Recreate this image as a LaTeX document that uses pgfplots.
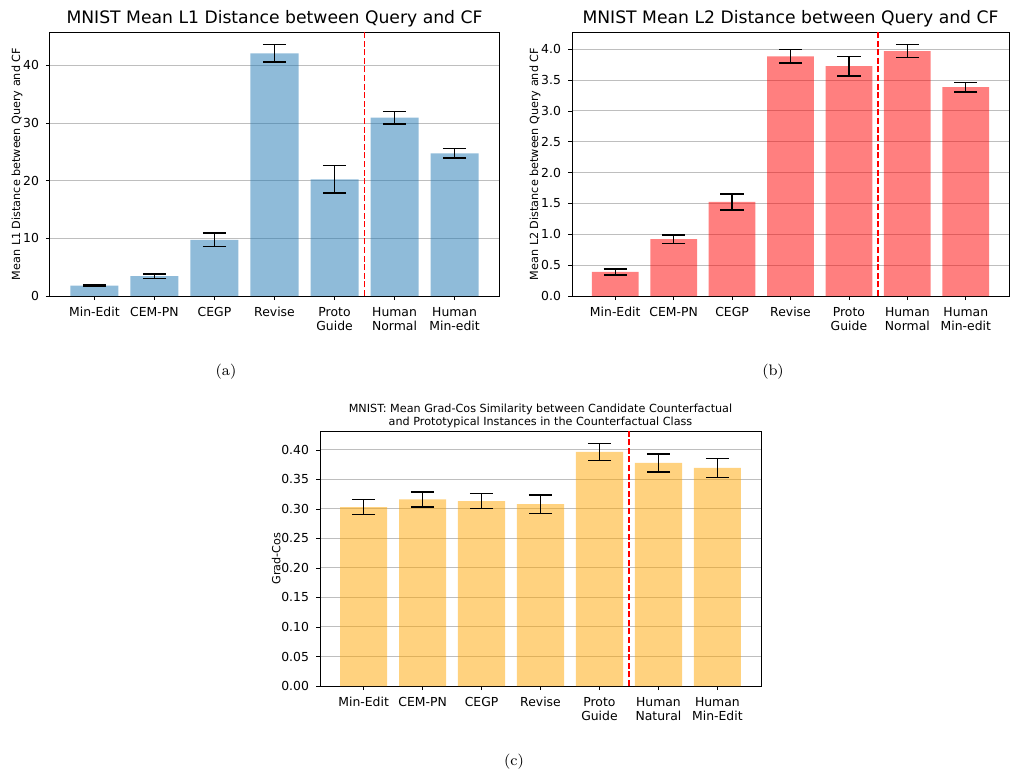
\documentclass[border=0pt]{standalone}
\usepackage{fontspec}
\usepackage{pgfplots}
\pgfplotsset{compat=1.18}
\newfontfamily\dejavu{DejaVu Sans}
\definecolor{tabblue}{HTML}{1F77B4}
\definecolor{mplred}{HTML}{FF0000}
\definecolor{mplorange}{HTML}{FFA500}
\definecolor{gridgray}{HTML}{BEBEBE}
\pgfplotsset{
  common/.style={
    scale only axis,
    xmin=-0.74, xmax=6.74,
    ymin=0,
    xtick={0,1,2,3,4,5,6},
    tick align=outside,
    xtick pos=bottom, ytick pos=left,
    major tick length=2pt,
    tick style={black, line width=0.4pt},
    axis line style={black, line width=0.5pt},
    ymajorgrids, grid style={gridgray, line width=0.5pt},
    /pgf/number format/assume math mode=true,
    tick label style={font=\dejavu\fontsize{6.2}{7.2}\selectfont},
    xticklabel style={align=center, anchor=north},
    ylabel style={font=\dejavu\fontsize{5.6}{6.5}\selectfont, yshift=-6.5pt},
    title style={font=\dejavu\fontsize{8.6}{10}\selectfont, yshift=-7pt},
    ybar, bar width=0.8,
    error bars/y dir=both, error bars/y explicit,
    error bars/error mark options={black, line width=0.7pt, mark size=5.8pt, rotate=90},
    error bars/error bar style={black, line width=0.7pt},
  },
  divider/.style={mplred, line width=0.9pt, dash pattern=on 3pt off 1.3pt, forget plot, no marks},
}
\begin{document}
\begin{tikzpicture}
\useasboundingbox (0pt,0pt) rectangle (505pt,-386pt);
% (a)
\begin{axis}[common, at={(25pt,-148pt)}, anchor=south west, width=224.5pt, height=132pt,
  ymax=45.8, ytick={0,10,20,30,40},
  xticklabels={Min-Edit,CEM-PN,CEGP,Revise,{Proto\\Guide},{Human\\Normal},{Human\\Min-edit}},
  ylabel={Mean L1 Distance between Query and CF},
  title={MNIST Mean L1 Distance between Query and CF}]
\addplot[fill=tabblue, fill opacity=0.5, draw=none] coordinates {
  (0,1.80) +- (0,0.10)
  (1,3.45) +- (0,0.37)
  (2,9.75) +- (0,1.15)
  (3,42.1) +- (0,1.5)
  (4,20.25) +- (0,2.35)
  (5,30.95) +- (0,1.1)
  (6,24.75) +- (0,0.8)
};
\addplot[divider, sharp plot] coordinates {(4.5,0) (4.5,45.8)};
\end{axis}
% (b)
\begin{axis}[common, at={(286pt,-148pt)}, anchor=south west, width=218.5pt, height=132pt,
  ymax=4.28, ytick={0,0.5,1,1.5,2,2.5,3,3.5,4},
  yticklabel style={/pgf/number format/.cd, fixed, fixed zerofill, precision=1},
  xticklabels={Min-Edit,CEM-PN,CEGP,Revise,{Proto\\Guide},{Human\\Normal},{Human\\Min-edit}},
  ylabel={Mean L2 Distance between Query and CF},
  title={MNIST Mean L2 Distance between Query and CF}]
\addplot[fill=mplred, fill opacity=0.5, draw=none] coordinates {
  (0,0.39) +- (0,0.048)
  (1,0.923) +- (0,0.068)
  (2,1.525) +- (0,0.13)
  (3,3.885) +- (0,0.11)
  (4,3.725) +- (0,0.16)
  (5,3.97) +- (0,0.105)
  (6,3.385) +- (0,0.08)
};
\addplot[divider, sharp plot] coordinates {(4.5,0) (4.5,4.28)};
\end{axis}
% (c)
\begin{axis}[common, at={(160pt,-343pt)}, anchor=south west, width=220.5pt, height=127.5pt,
  ymax=0.432, ytick={0,0.05,0.1,0.15,0.2,0.25,0.3,0.35,0.4},
  yticklabel style={/pgf/number format/.cd, fixed, fixed zerofill, precision=2},
  xticklabels={Min-Edit,CEM-PN,CEGP,Revise,{Proto\\Guide},{Human\\Natural},{Human\\Min-Edit}},
  ylabel={Grad-Cos},
  title style={font=\dejavu\fontsize{5.6}{6.6}\selectfont, align=center, yshift=-1pt},
  title={MNIST: Mean Grad-Cos Similarity between Candidate Counterfactual\\and Prototypical Instances in the Counterfactual Class}]
\addplot[fill=mplorange, fill opacity=0.5, draw=none] coordinates {
  (0,0.3030) +- (0,0.0125)
  (1,0.3163) +- (0,0.0127)
  (2,0.3134) +- (0,0.0125)
  (3,0.3083) +- (0,0.0156)
  (4,0.3966) +- (0,0.0144)
  (5,0.3780) +- (0,0.0152)
  (6,0.3695) +- (0,0.0158)
};
\addplot[divider, sharp plot] coordinates {(4.5,0) (4.5,0.432)};
\end{axis}
\node[font=\fontsize{7.6}{9}\selectfont] at (113pt,-186pt) {(a)};
\node[font=\fontsize{7.6}{9}\selectfont] at (386.5pt,-186pt) {(b)};
\node[font=\fontsize{7.6}{9}\selectfont] at (257pt,-381pt) {(c)};
\end{tikzpicture}
\end{document}
